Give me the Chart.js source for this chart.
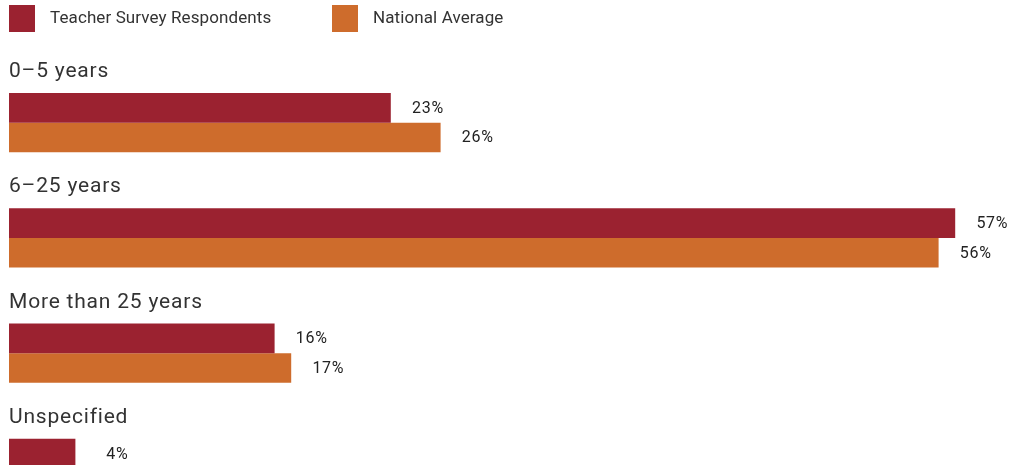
<!DOCTYPE html>
<html>
<head>
<meta charset="utf-8">
<script src="https://cdn.jsdelivr.net/npm/chart.js@4/dist/chart.umd.min.js"></script>
<style>
  html, body { margin: 0; padding: 0; background: #fff; overflow: hidden; }
  #wrap { position: relative; width: 1021px; height: 526px; }
</style>
</head>
<body>
<div id="wrap"><canvas id="c"></canvas></div>
<script>
const categories = ["0\u20135 years", "6\u201325 years", "More than 25 years", "Unspecified"];
const seriesNames = ["Teacher Survey Respondents", "National Average"];
const teacherValues = [23, 57, 16, 4];
const nationalValues = [26, 56, 17, null];
const seriesColors = ["#9B2230", "#CE6C2C"];
const FONT = "Roboto, 'DejaVu Sans', sans-serif";

const overlay = {
  id: 'overlay',
  afterDatasetsDraw(chart) {
    const ctx = chart.ctx;
    ctx.save();
    // legend
    ctx.textBaseline = 'middle';
    ctx.textAlign = 'left';
    ctx.font = "17px " + FONT;
    ctx.letterSpacing = '0.1px';
    const legendX = [9, 332];
    chart.data.datasets.forEach((ds, i) => {
      ctx.fillStyle = ds.backgroundColor;
      ctx.fillRect(legendX[i], 5, 26, 27);
      ctx.fillStyle = '#333';
      ctx.fillText(ds.label, legendX[i] + 41, 19);
    });
    // category labels
    const meta0 = chart.getDatasetMeta(0);
    ctx.font = "21px " + FONT;
    ctx.letterSpacing = '0.8px';
    ctx.textBaseline = 'alphabetic';
    ctx.fillStyle = '#333';
    chart.data.labels.forEach((lab, i) => {
      const bar = meta0.data[i];
      const top = bar.y - bar.height / 2;
      ctx.fillText(lab, 9, top - 16);
    });
    // value labels (right-aligned a fixed distance past the bar end)
    ctx.font = "16px " + FONT;
    ctx.letterSpacing = '0.7px';
    ctx.textBaseline = 'middle';
    ctx.textAlign = 'right';
    ctx.fillStyle = '#222';
    chart.data.datasets.forEach((ds, di) => {
      const meta = chart.getDatasetMeta(di);
      ds.data.forEach((v, i) => {
        if (v === null || v === undefined) return;
        const bar = meta.data[i];
        ctx.fillText(v + '%', bar.x + 53, bar.y + 1);
      });
    });
    ctx.restore();
  }
};

new Chart(document.getElementById('c'), {
  type: 'bar',
  data: {
    labels: categories,
    datasets: [
      { label: seriesNames[0], data: teacherValues, backgroundColor: seriesColors[0] },
      { label: seriesNames[1], data: nationalValues, backgroundColor: seriesColors[1] }
    ]
  },
  options: {
    indexAxis: 'y',
    responsive: true,
    maintainAspectRatio: false,
    animation: false,
    layout: { padding: { left: 9, right: 16, top: 65, bottom: 0 } },
    datasets: { bar: { categoryPercentage: 0.512, barPercentage: 1.0, borderWidth: 0 } },
    scales: {
      x: { display: false, min: 0, max: 60 },
      y: { display: false }
    },
    plugins: { legend: { display: false }, tooltip: { enabled: false } }
  },
  plugins: [overlay]
});
</script>
</body>
</html>
